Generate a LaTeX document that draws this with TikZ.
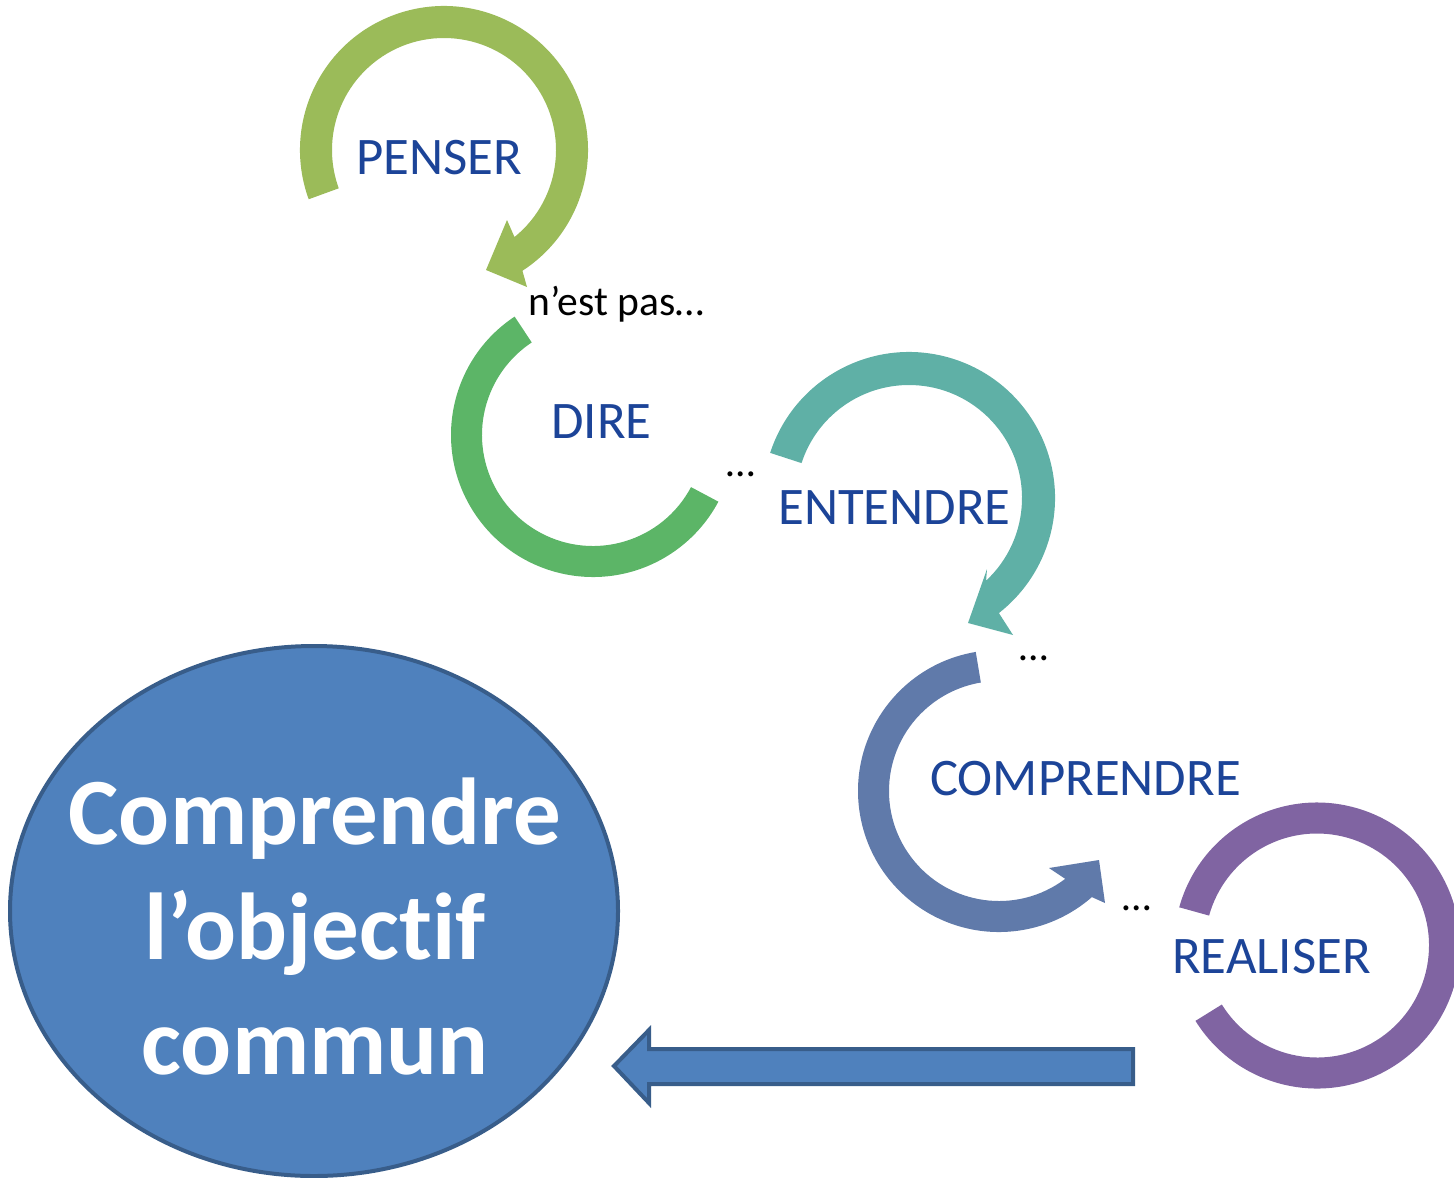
\documentclass[tikz,border=0pt]{standalone}
\usepackage{fontspec}
\setmainfont{Carlito}[Ligatures=NoCommon]
\usetikzlibrary{calc}
\definecolor{cPenser}{RGB}{155,187,89}
\definecolor{cDire}{RGB}{92,181,103}
\definecolor{cEntendre}{RGB}{95,176,166}
\definecolor{cComprendre}{RGB}{96,122,170}
\definecolor{cRealiser}{RGB}{128,100,162}
\definecolor{txtblue}{RGB}{28,68,152}
\definecolor{ellfill}{RGB}{79,129,189}
\definecolor{ellline}{RGB}{56,93,138}
\begin{document}
\begin{tikzpicture}[x=0.5pt,y=0.5pt,
  lbl/.style={text=txtblue, font=\fontsize{26.4}{30}\selectfont, inner sep=0pt},
  small/.style={text=black, font=\fontsize{20.8}{24}\selectfont, inner sep=0pt, anchor=base},
  big/.style={text=white, font=\bfseries\fontsize{47.5}{57}\selectfont, inner sep=0pt, anchor=base},
  blockshape/.style={draw=ellline, fill=ellfill, line width=2pt, line join=miter},
]
\useasboundingbox (0,0) rectangle (1454,-1177);
\clip (0,0) rectangle (1454,-1177);

% PENSER circular arrow
\coordinate (cP) at (444,-150);
\fill[cPenser] ($(cP)+(200:144)$) arc[start angle=200, end angle=-57, radius=144]
  -- (527,-287) -- (486,-270) -- (507,-220) -- ($(cP)+(-51:112)$)
  arc[start angle=-51, end angle=200, radius=112] -- cycle;

% DIRE arc
\coordinate (cD) at (593,-435);
\fill[cDire] ($(cD)+(123.5:142)$) arc[start angle=123.5, end angle=332, radius=142]
  -- ($(cD)+(332:111)$) arc[start angle=332, end angle=123.5, radius=111] -- cycle;

% ENTENDRE circular arrow
\coordinate (cE) at (909,-498);
\fill[cEntendre] ($(cE)+(162:146)$) arc[start angle=162, end angle=-52, radius=146]
  -- (1013,-635) -- (968,-623) -- (987,-569) -- ($(cE)+(-47:113)$)
  arc[start angle=-47, end angle=162, radius=113] -- cycle;

% COMPRENDRE circular arrow
\coordinate (cC) at (999,-791);
\fill[cComprendre] ($(cC)+(99.5:141)$) arc[start angle=99.5, end angle=311.2, radius=141]
  -- (1105,-903) -- (1099,-860) -- (1049,-868) -- ($(cC)+(307:110)$)
  arc[start angle=307, end angle=99.5, radius=110] -- cycle;

% REALISER arc
\coordinate (cR) at (1317,-945.5);
\fill[cRealiser] ($(cR)+(164.5:143)$) arc[start angle=164.5, end angle=-148.2, radius=143]
  -- ($(cR)+(-148.2:112)$) arc[start angle=-148.2, end angle=164.5, radius=112] -- cycle;

% big ellipse
\draw[blockshape] (314,-911) ellipse[x radius=304, y radius=265];

% block arrow
\draw[blockshape] (1133,-1049) -- (649,-1049) -- (649,-1030) -- (614,-1066)
  -- (649,-1103) -- (649,-1084) -- (1133,-1084) -- cycle;

% labels
\node[lbl] (penser) at (439,-157.5) {PENSER};
\node[lbl] (dire) at (601.5,-421.5) {DIRE};
\node[lbl] (entendre) at (894.5,-508) {ENTENDRE};
\node[lbl] (comprendre) at (1085.5,-778.5) {COMPRENDRE};
\node[lbl] (realiser) at (1271.5,-956.5) {REALISER};
\node[small, anchor=base west] (nestpas) at (528,-315) {n’est pas…};
\node[small] (dots1) at (741,-476) {…};
\node[small] (dots2) at (1034,-660) {…};
\node[small] (dots3) at (1137,-910) {…};
\node[big] (b1) at (315,-844) {Comprendre};
\node[big] (b2) at (315,-959) {l’objectif};
\node[big] (b3) at (315,-1074) {commun};
\end{tikzpicture}
\end{document}
